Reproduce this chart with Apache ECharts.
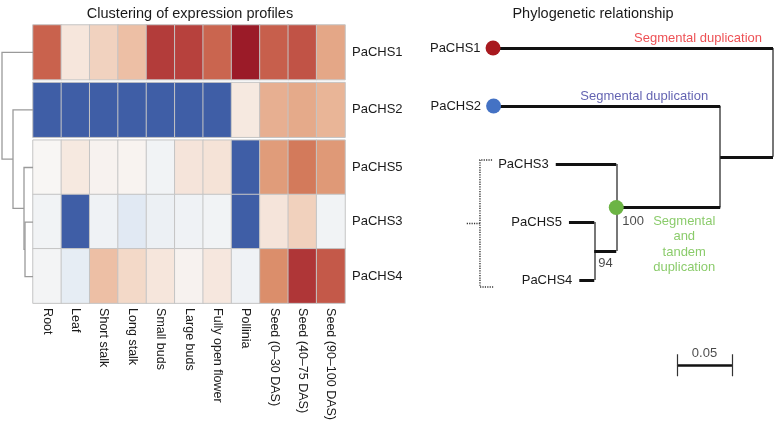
<!DOCTYPE html>
<html><head><meta charset="utf-8">
<script src="https://cdn.jsdelivr.net/npm/echarts@6/dist/echarts.min.js"></script>
<style>html,body{margin:0;padding:0;background:#fff}#c{width:776px;height:423px}</style>
</head><body><div id="c"></div>
<script>
// ---------- DATA ----------
const tissues = ['Root','Leaf','Short stalk','Long stalk','Small buds','Large buds','Fully open flower','Pollinia','Seed (0–30 DAS)','Seed (40–75 DAS)','Seed (90–100 DAS)'];
const heatGenes = ['PaCHS1','PaCHS2','PaCHS5','PaCHS3','PaCHS4'];
const PaCHS1 = [0.75,0.14,0.27,0.38,0.88,0.86,0.74,1.0,0.76,0.80,0.51];
const PaCHS2 = [-1,-1,-1,-1,-1,-1,-1,0.12,0.47,0.50,0.44];
const PaCHS5 = [0.01,0.12,0.04,0.03,-0.04,0.15,0.16,-1,0.55,0.67,0.56];
const PaCHS3 = [-0.04,-1,-0.05,-0.13,-0.07,-0.05,-0.04,-1,0.15,0.28,-0.04];
const PaCHS4 = [-0.03,-0.10,0.38,0.23,0.14,0.04,0.13,-0.05,0.60,0.90,0.78];
const rowGroups = [['PaCHS1'],['PaCHS2'],['PaCHS5','PaCHS3','PaCHS4']];
// hierarchical clustering merges: [childA, childB, height]; numbers = leaf index in heatGenes, 'mK' = merge K
const dendroMerges = [[3,4,0.8],[2,'m0',0.9],[1,'m1',2.0],[0,'m2',3.1]];
// phylogenetic tree
const treeNodes   = ['root','PaCHS1','n1','PaCHS2','n2','PaCHS3','n3','PaCHS5','PaCHS4'];
const treeParents = [null,'root','root','n1','n1','n2','n2','n3','n3'];
const branchLengths = [0,0.2545,0.048,0.206,0.0945,0.055,0.020,0.023,0.0136];
const bootstrapNodes = ['n2','n3'];
const bootstrapValues = [100,94];
const tipOrder = ['PaCHS1','PaCHS2','PaCHS3','PaCHS5','PaCHS4'];
const scaleBarLength = 0.05;
const scaleBarText = '0.05';

// ---------- LAYOUT / STYLE ----------
const FONT = '"Liberation Sans", Arial, Helvetica, sans-serif';
const TXT = '#1a1a1a';
const HM_LEFT = 33, HM_W = 312, HM_TOP = 25, ROW_H = 54.6, GAP = 3;
const heatColors = ['#3F5EA6','#5470AF','#6A82B9','#8096C4','#97AACF','#AFBFDB','#C8D5E7','#E2EAF3','#F8F7F6',
  '#F6E8DF','#F2D6C4','#EDC0A6','#E5AA8A','#D98763','#C9624D','#B43D3B','#9B1B28'];
const seriesByGene = {PaCHS1, PaCHS2, PaCHS5, PaCHS3, PaCHS4};

const grids = [], xAxes = [], yAxes = [], series = [];
let off = 0; const leafY = {};
rowGroups.forEach((grp, gi) => {
  grids.push({left: HM_LEFT, width: HM_W, top: HM_TOP + off, height: ROW_H * grp.length});
  grp.forEach((g, k) => { leafY[g] = off + ROW_H * (k + 0.5); });
  off += ROW_H * grp.length + GAP;
  const last = gi === rowGroups.length - 1;
  xAxes.push({type:'category', gridIndex: gi, data: tissues, axisLine:{show:false}, axisTick:{show:false},
    axisLabel: last ? {show:true, rotate:-90, margin:5, fontSize:12.5, color:TXT, fontFamily:FONT, interval:0} : {show:false},
    splitLine:{show:false}});
  yAxes.push({type:'category', gridIndex: gi, data: grp, inverse:true, position:'right', axisLine:{show:false}, axisTick:{show:false},
    axisLabel:{margin:7, fontSize:13, color:TXT, fontFamily:FONT, fontWeight:'normal'}});
  const data = [];
  grp.forEach((g, yi) => seriesByGene[g].forEach((v, xi) => data.push([xi, yi, v])));
  series.push({type:'heatmap', xAxisIndex: gi, yAxisIndex: gi, data, silent:true,
    itemStyle:{borderColor:'#c4c4c4', borderWidth:1}, emphasis:{disabled:true}});
});
const totalH = off - GAP;

// dendrogram
grids.push({left:0, width:HM_LEFT, top:HM_TOP, height: totalH});
xAxes.push({type:'value', gridIndex:3, min:0, max:3.3, inverse:true, show:false});
yAxes.push({type:'value', gridIndex:3, min:0, max: totalH, inverse:true, show:false});
const nodePos = {};
heatGenes.forEach((g, i) => { nodePos[i] = [0, leafY[g]]; });
const dendroLines = [];
dendroMerges.forEach((m, k) => {
  const a = nodePos[m[0]], b = nodePos[m[1]], h = m[2];
  dendroLines.push({coords: [[a[0], a[1]], [h, a[1]], [h, b[1]], [b[0], b[1]]]});
  nodePos['m' + k] = [h, (a[1] + b[1]) / 2];
});
series.push({type:'lines', coordinateSystem:'cartesian2d', xAxisIndex:3, yAxisIndex:3, polyline:true, silent:true,
  lineStyle:{color:'#9a9a9a', width:1.3, opacity:1}, data: dendroLines});

// phylogenetic tree
grids.push({left:443, width:330, top:48, height:348});
xAxes.push({type:'value', gridIndex:4, min:0, max:0.3, inverse:true, show:false});
yAxes.push({type:'value', gridIndex:4, min:0, max:6, inverse:true, show:false});
const tx = {}, ty = {}, kids = {};
treeNodes.forEach((id, i) => {
  const p = treeParents[i];
  tx[id] = (p ? tx[p] : 0) + branchLengths[i];
  if (p) (kids[p] = kids[p] || []).push(id);
});
function yOf(id) {
  if (ty[id] !== undefined) return ty[id];
  if (!kids[id]) return (ty[id] = tipOrder.indexOf(id));
  const ys = kids[id].map(yOf);
  return (ty[id] = (Math.min(...ys) + Math.max(...ys)) / 2);
}
yOf('root');
const vLines = [], hLines = [];
treeNodes.forEach((id, i) => {
  if (kids[id]) {
    const ys = kids[id].map(c => ty[c]);
    vLines.push({coords: [[tx[id], Math.min(...ys)], [tx[id], Math.max(...ys)]]});
  }
  const p = treeParents[i];
  if (p) hLines.push({coords: [[tx[p], ty[id]], [tx[id], ty[id]]]});
});
series.push({type:'lines', coordinateSystem:'cartesian2d', xAxisIndex:4, yAxisIndex:4, silent:true, z:1,
  lineStyle:{color:'#555', width:1.6, opacity:1}, data: vLines});
series.push({type:'lines', coordinateSystem:'cartesian2d', xAxisIndex:4, yAxisIndex:4, silent:true, z:1,
  lineStyle:{color:'#111', width:3, opacity:1}, data: hLines});

// dotted bracket next to PaCHS3/5/4
const brX = 0.2664, brTop = ty['PaCHS3'] - 0.07, brBot = ty['PaCHS4'] + 0.12;
series.push({type:'lines', coordinateSystem:'cartesian2d', xAxisIndex:4, yAxisIndex:4, polyline:true, silent:true, z:1,
  lineStyle:{color:'#333', width:1.4, type:[1.2,1.2], opacity:1},
  data:[{coords:[[brX - 0.011, brTop],[brX, brTop],[brX, brBot],[brX - 0.012, brBot]]},
        {coords:[[brX, (brTop + brBot) / 2],[brX + 0.012, (brTop + brBot) / 2]]}]});

// scale bar
const sbX = 0.0373, sbY = 5.47, sbT = 0.19;
series.push({type:'lines', coordinateSystem:'cartesian2d', xAxisIndex:4, yAxisIndex:4, silent:true, z:1,
  lineStyle:{color:'#111', width:2.5, opacity:1}, data:[{coords:[[sbX, sbY],[sbX + scaleBarLength, sbY]]}]});
series.push({type:'lines', coordinateSystem:'cartesian2d', xAxisIndex:4, yAxisIndex:4, silent:true, z:1,
  lineStyle:{color:'#333', width:1.2, opacity:1},
  data:[{coords:[[sbX, sbY - sbT],[sbX, sbY + sbT]]},{coords:[[sbX + scaleBarLength, sbY - sbT],[sbX + scaleBarLength, sbY + sbT]]}]});

// tips, dots and labels
const dotColors = {PaCHS1:'#A8191F', PaCHS2:'#4472C4', n2:'#6CB444'};
const tipData = tipOrder.map(t => ({
  value:[tx[t], ty[t]], name:t, symbolSize: dotColors[t] ? 15 : 0,
  itemStyle:{color: dotColors[t] || 'transparent', opacity:1},
  label:{show:true, position:'left', distance: dotColors[t] ? 5 : 7, formatter:t, color:TXT, fontSize:13, fontFamily:FONT, opacity:1}
}));
tipData.push({value:[tx.n2, ty.n2], name:'n2', symbolSize:15, itemStyle:{color:dotColors.n2, opacity:1}, label:{show:false}});
series.push({type:'scatter', xAxisIndex:4, yAxisIndex:4, silent:true, zlevel:1, z:5, data: tipData,
  emphasis:{disabled:true}});

const annot = [];
bootstrapNodes.forEach((n, i) => annot.push({value:[tx[n], ty[n]],
  label:{formatter:String(bootstrapValues[i]), position: i === 0 ? [6, 14] : [4, 12], align:'left', verticalAlign:'middle', color:TXT}}));
annot.push({value:[tx.root, ty.PaCHS1], label:{formatter:'Segmental duplication', position:[-11,-10], align:'right', verticalAlign:'middle', color:'#E8262A'}});
annot.push({value:[tx.n1, ty.PaCHS2], label:{formatter:'Segmental duplication', position:[-12,-10], align:'right', verticalAlign:'middle', color:'#3B3B9E'}});
annot.push({value:[tx.n2, ty.n2], label:{formatter:'Segmental\nand\ntandem\nduplication', position:[68,6], align:'center', verticalAlign:'top', lineHeight:15.5, color:'#6DBE45'}});
annot.push({value:[sbX + scaleBarLength / 2, sbY], label:{formatter:scaleBarText, position:[0,-12], align:'center', verticalAlign:'middle', color:TXT}});
series.push({type:'scatter', xAxisIndex:4, yAxisIndex:4, silent:true, zlevel:1, z:6, symbolSize:0, data: annot,
  itemStyle:{color:'transparent'}, label:{show:true, fontSize:13, fontFamily:FONT}, emphasis:{disabled:true}});

const chart = echarts.init(document.getElementById('c'), null, {renderer:'canvas'});
chart.setOption({
  animation:false,
  backgroundColor:'#fff',
  title:[
    {text:'Clustering of expression profiles', left:185, textAlign:'center', top:1, textStyle:{fontSize:14.5, fontWeight:'normal', color:TXT, fontFamily:FONT}},
    {text:'Phylogenetic relationship', left:588, textAlign:'center', top:1, textStyle:{fontSize:14.5, fontWeight:'normal', color:TXT, fontFamily:FONT}}
  ],
  grid: grids, xAxis: xAxes, yAxis: yAxes,
  visualMap:{type:'continuous', show:false, min:-1, max:1, seriesIndex:[0,1,2], inRange:{color: heatColors}},
  series
});
</script></body></html>
